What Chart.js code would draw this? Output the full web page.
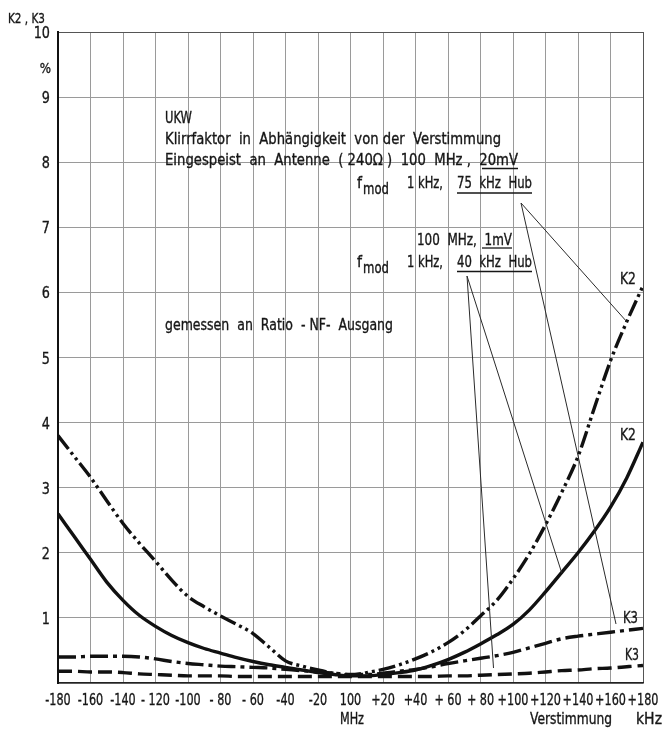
<!DOCTYPE html>
<html lang="de">
<head>
    <meta charset="UTF-8">
    <title>UKW Klirrfaktor</title>
    <script src="https://cdn.jsdelivr.net/npm/chart.js"></script>
    <style>
        html, body { margin: 0; padding: 0; background: #fff; }
        #wrap { width: 663px; height: 731px; }
    </style>
</head>
<body>
<div id="wrap"><canvas id="klirr" width="663" height="731"></canvas></div>
<script>
    // Verstimmung in kHz um 100 MHz
    const verstimmung = [-180, -170, -160, -150, -140, -130, -120, -110, -100, -90, -80, -70, -60, -50, -40, -30, -20, -10, 0,
                         10, 20, 30, 40, 50, 60, 70, 80, 90, 100, 110, 120, 130, 140, 150, 160, 170, 180];

    // Klirrfaktor in %
    const k2Hub75 = [3.80, 3.48, 3.16, 2.80, 2.45, 2.15, 1.87, 1.58, 1.33, 1.17, 1.03, 0.90, 0.76, 0.55, 0.34, 0.26, 0.20, 0.15, 0.12,
                     0.16, 0.21, 0.28, 0.37, 0.48, 0.62, 0.80, 1.03, 1.27, 1.60, 1.98, 2.43, 2.93, 3.48, 4.22, 4.95, 5.55, 6.10];
    const k2Hub40 = [2.60, 2.25, 1.90, 1.55, 1.27, 1.04, 0.87, 0.73, 0.62, 0.53, 0.46, 0.39, 0.33, 0.28, 0.24, 0.20, 0.16, 0.13, 0.11,
                     0.11, 0.13, 0.16, 0.20, 0.27, 0.36, 0.47, 0.60, 0.74, 0.90, 1.12, 1.40, 1.70, 2.00, 2.33, 2.70, 3.15, 3.70];
    const k3Hub75 = [0.40, 0.40, 0.41, 0.41, 0.41, 0.40, 0.37, 0.33, 0.30, 0.28, 0.26, 0.25, 0.24, 0.23, 0.21, 0.19, 0.17, 0.15, 0.13,
                     0.13, 0.15, 0.18, 0.21, 0.25, 0.30, 0.34, 0.38, 0.42, 0.47, 0.54, 0.61, 0.68, 0.72, 0.75, 0.78, 0.81, 0.84];
    const k3Hub40 = [0.18, 0.18, 0.17, 0.17, 0.16, 0.14, 0.13, 0.12, 0.11, 0.11, 0.11, 0.10, 0.10, 0.10, 0.10, 0.10, 0.10, 0.10, 0.10,
                     0.10, 0.10, 0.10, 0.10, 0.10, 0.11, 0.11, 0.12, 0.13, 0.14, 0.15, 0.17, 0.19, 0.20, 0.22, 0.23, 0.25, 0.27];

    const xTicks = [-180, -160, -140, -120, -100, -80, -60, -40, -20, 0, 20, 40, 60, 80, 100, 120, 140, 160, 180];
    const xTickLabels = ['-180', '-160', '-140', '- 120', '-100', '- 80', '- 60', '-40', '-20', '100',
                         '+20', '+40', '+ 60', '+ 80', '+100', '+120', '+140', '+160', '+180'];
    const yTicks = [1, 2, 3, 4, 5, 6, 7, 8, 9, 10];
    const yTickLabels = ['1', '2', '3', '4', '5', '6', '7', '8', '9', '10'];

    const FONT = '"DejaVu Sans", sans-serif';
    const INK = '#161616';

    // schmale Normschrift: horizontal gestaucht, leicht nachgezogen
    function squeezed(ctx, str, x, y, size, sx, align) {
        ctx.save();
        ctx.font = size + 'px ' + FONT;
        ctx.textAlign = align || 'left';
        ctx.textBaseline = 'alphabetic';
        ctx.translate(x, y);
        ctx.scale(sx, 1);
        ctx.fillText(str, 0, 0);
        ctx.lineWidth = 0.35;
        ctx.strokeText(str, 0, 0);
        ctx.restore();
    }

    // Text auf vorgegebene Breite stauchen
    function fitted(ctx, str, x, y, size, width) {
        ctx.save();
        ctx.font = size + 'px ' + FONT;
        const w = ctx.measureText(str).width;
        ctx.restore();
        squeezed(ctx, str, x, y, size, width / w, 'left');
    }

    function line(ctx, x1, y1, x2, y2, w) {
        ctx.beginPath();
        ctx.lineWidth = w;
        ctx.moveTo(x1, y1);
        ctx.lineTo(x2, y2);
        ctx.stroke();
    }

    const beschriftung = {
        id: 'beschriftung',
        afterDraw(chart) {
            const ctx = chart.ctx;
            const xs = chart.scales.x, ys = chart.scales.y;
            ctx.save();
            ctx.fillStyle = INK;
            ctx.strokeStyle = INK;

            // Achsenbeschriftung
            xTicks.forEach((v, i) => squeezed(ctx, xTickLabels[i], xs.getPixelForValue(v), 705, 16, 0.7, 'center'));
            yTicks.forEach((v, i) => squeezed(ctx, yTickLabels[i], 50, ys.getPixelForValue(v) + 6, 16, 0.8, 'right'));
            squeezed(ctx, '%', 51, 73, 14, 0.85, 'right');
            fitted(ctx, 'K2 , K3', 8, 23, 14, 37);
            fitted(ctx, 'MHz', 340, 724, 15, 24);
            fitted(ctx, 'Verstimmung', 530, 724, 15, 82);
            fitted(ctx, 'kHz', 636, 724, 15, 26);

            // Textblock
            fitted(ctx, 'UKW', 165, 123, 15, 27);
            fitted(ctx, 'Klirrfaktor  in  Abhängigkeit  von der  Verstimmung', 165, 144, 15, 336);
            fitted(ctx, 'Eingespeist  an  Antenne  ( 240Ω )  100  MHz ,  20mV', 165, 165, 15, 353);
            line(ctx, 482, 168.5, 518, 168.5, 1.3);

            fitted(ctx, 'f', 357, 188, 15, 5);
            fitted(ctx, 'mod', 363, 194, 15, 26);
            fitted(ctx, '1 kHz,', 407, 188, 15, 36);
            fitted(ctx, '75  kHz  Hub', 457, 188, 15, 75);
            line(ctx, 457, 193, 532, 193, 1.3);

            fitted(ctx, '100  MHz,  1mV', 417, 245, 15, 95);
            line(ctx, 482, 248, 512, 248, 1.3);
            fitted(ctx, 'f', 357, 267, 15, 5);
            fitted(ctx, 'mod', 363, 273, 15, 26);
            fitted(ctx, '1 kHz,', 407, 267, 15, 36);
            fitted(ctx, '40  kHz  Hub', 457, 267, 15, 75);
            line(ctx, 457, 271.5, 532, 271.5, 1.3);

            fitted(ctx, 'gemessen  an  Ratio  - NF-  Ausgang', 165, 330, 15, 228);

            // Kurvenbezeichnungen
            fitted(ctx, 'K2', 620, 284, 15, 16);
            fitted(ctx, 'K2', 620, 440, 15, 16);
            fitted(ctx, 'K3', 623, 623, 15, 15);
            fitted(ctx, 'K3', 625, 660, 15, 14);

            // Hinweislinien
            ctx.strokeStyle = '#2a2a2a';
            line(ctx, 521, 203, xs.getPixelForValue(170), ys.getPixelForValue(5.55), 1);
            line(ctx, 521, 203, 616, 624, 1);
            line(ctx, 467, 276, xs.getPixelForValue(88), ys.getPixelForValue(0.23), 1);
            line(ctx, 467, 276, xs.getPixelForValue(130), ys.getPixelForValue(1.69), 1);
            ctx.restore();
        }
    };

    const points = ys => verstimmung.map((x, i) => ({ x: x, y: ys[i] }));
    const kurve = {
        borderColor: '#111',
        borderWidth: 3.4,
        pointRadius: 0,
        fill: false,
        cubicInterpolationMode: 'monotone',
        borderCapStyle: 'butt'
    };
    const gridColor = c => (c.tick && (c.tick.value === 10 || c.tick.value === 180)) ? '#555' : '#9a9a9a';

    new Chart(document.getElementById('klirr'), {
        type: 'line',
        data: {
            datasets: [
                { label: 'K2 75 kHz Hub', data: points(k2Hub75), ...kurve, borderDash: [17, 4, 3, 4, 3, 4] },
                { label: 'K2 40 kHz Hub', data: points(k2Hub40), ...kurve },
                { label: 'K3 75 kHz Hub', data: points(k3Hub75), ...kurve, borderDash: [18, 5, 4, 5] },
                { label: 'K3 40 kHz Hub', data: points(k3Hub40), ...kurve, borderDash: [14, 6] }
            ]
        },
        options: {
            responsive: false,
            animation: false,
            layout: { padding: { left: 58, right: 20, top: 32, bottom: 48 } },
            plugins: { legend: { display: false }, tooltip: { enabled: false } },
            scales: {
                x: {
                    type: 'linear', min: -180, max: 180,
                    ticks: { stepSize: 20, display: false },
                    grid: { color: gridColor, lineWidth: 1, drawTicks: false },
                    border: { color: '#222', width: 1.5 },
                    afterFit: s => { s.height = 0; }
                },
                y: {
                    type: 'linear', min: 0, max: 10,
                    ticks: { stepSize: 1, display: false },
                    grid: { color: gridColor, lineWidth: 1, drawTicks: false },
                    border: { color: '#111', width: 2 },
                    afterFit: s => { s.width = 0; }
                }
            }
        },
        plugins: [beschriftung]
    });
</script>
</body>
</html>
